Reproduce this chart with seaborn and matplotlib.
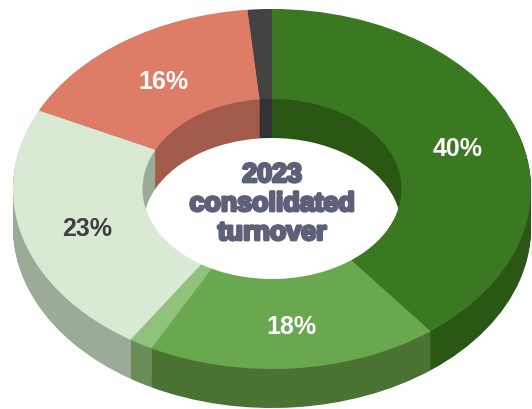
import matplotlib
matplotlib.use("Agg")
import matplotlib.pyplot as plt
import matplotlib.patheffects as pe
import matplotlib.transforms as mtransforms
import numpy as np
import seaborn as sns

shares = [39.5, 18.2, 1.5, 23.0, 16.3, 1.5]
labels = ["40%", "18%", "", "23%", "16%", ""]
label_colors = ["white", "white", "white", "#3f3f3f", "white", "white"]
top_colors = ["#3a7821", "#69a84f", "#8fc27a", "#d9e9d3", "#dd7d68", "#434343"]
wall_colors = ["#2a5714", "#4a7233", "#6a8c58", "#9cab97", "#a25a4b", "#333236"]
center_lines = ["2023", "consolidated", "turnover"]

sns.set_theme(style="white")
plt.rcParams["font.family"] = ["Liberation Sans", "DejaVu Sans"]

W, H = 532, 410
cx, cy, rx, ry = 272, 190, 259, 180
depth = 39 / ry

fig = plt.figure(figsize=(W / 100, H / 100), dpi=100, facecolor="white")
ax = fig.add_axes([0, 0, 1, 1])

wedge = dict(width=0.5, linewidth=0.4)
for off in np.linspace(depth, 0.004, 40):
    ax.pie(shares, colors=wall_colors, startangle=90, counterclock=False,
           radius=1, center=(0, -off), wedgeprops={**wedge, "edgecolor": "none"})

_, texts = ax.pie(shares, colors=top_colors, startangle=90, counterclock=False,
                  radius=1, labels=labels, labeldistance=0.75,
                  wedgeprops={**wedge, "edgecolor": "none"})
shift = mtransforms.ScaledTranslation(2 / 100, -3 / 100, fig.dpi_scale_trans)
for t, c in zip(texts, label_colors):
    t.set(ha="center", va="center", color=c, fontsize=18, fontweight="bold")
    t.set_transform(t.get_transform() + shift)

ax.set_aspect("auto")
ax.set_xlim(-cx / rx, (W - cx) / rx)
ax.set_ylim(-(H - cy) / ry, cy / ry)
ax.set_axis_off()

text_color = "#5c6079"
for line, py in zip(center_lines, [176, 205, 234]):
    ax.text(0, (cy - py) / ry, line, ha="center", va="center", fontsize=19.3,
            fontweight="bold", color=text_color,
            path_effects=[pe.withStroke(linewidth=2.0, foreground=text_color)])

fig.savefig("out.png", dpi=100, facecolor="white")
